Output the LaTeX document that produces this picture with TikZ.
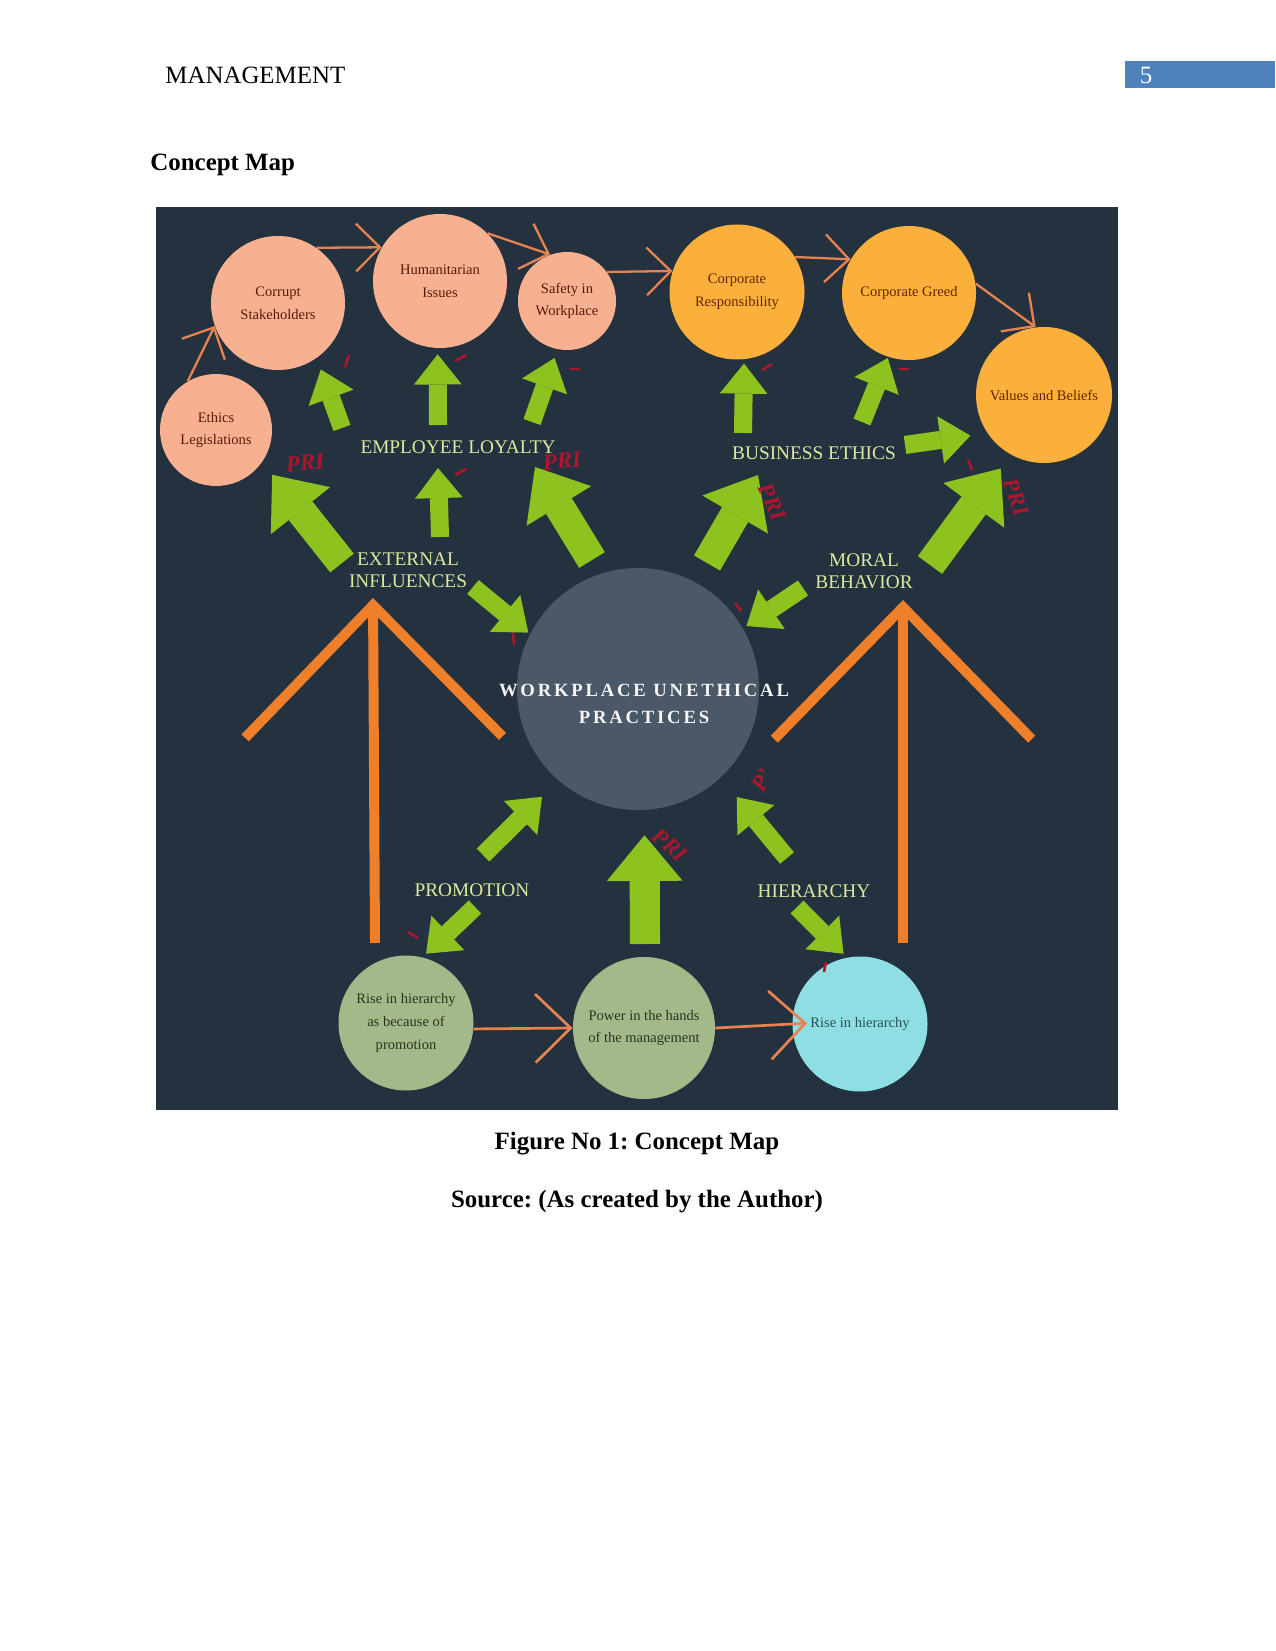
\documentclass[tikz,border=0pt]{standalone}
\usepackage{fontspec}
\setmainfont{Liberation Serif}
\usepackage{xcolor}
\usetikzlibrary{arrows.meta}
\definecolor{panelnavy}{HTML}{243240}
\definecolor{coregray}{HTML}{4A5867}
\definecolor{peach}{HTML}{F7B190}
\definecolor{amber}{HTML}{FBB03B}
\definecolor{sage}{HTML}{A4B98A}
\definecolor{aqua}{HTML}{8EDFE3}
\definecolor{arrowgreen}{HTML}{8DC21F}
\definecolor{lblgreen}{HTML}{DCE89C}
\definecolor{tentorange}{HTML}{F07F2A}
\definecolor{linkorange}{HTML}{E8834F}
\definecolor{hdrblue}{HTML}{4F81BD}
\definecolor{scribble}{HTML}{B0152D}
\definecolor{peachtext}{HTML}{561A0A}
\definecolor{ambertext}{HTML}{642400}
\definecolor{sagetext}{HTML}{2B3222}
\definecolor{aquatext}{HTML}{2E4E56}
\newlength{\pxu}
\setlength{\pxu}{0.4818pt}
\frenchspacing

\begin{document}
\begin{tikzpicture}[x=1\pxu, y=-1\pxu,
    circ/.style={circle, inner sep=0pt, align=center, font=\fontsize{7}{11}\selectfont},
    peachball/.style={circ, fill=peach, text=peachtext},
    amberball/.style={circ, fill=amber, text=ambertext},
    sageball/.style={circ, fill=sage, text=sagetext},
    aquaball/.style={circ, fill=aqua, text=aquatext},
    lbl/.style={inner sep=0pt, align=center, text=lblgreen, font=\fontsize{9.3}{10.6}\selectfont},
    garrow/.style={draw=arrowgreen, line width=8.7pt,
      -{Triangle[length=14.5pt, width=23pt, line width=0pt 0]}},
    gbig/.style={draw=arrowgreen, line width=14.5pt,
      -{Triangle[length=22pt, width=36.5pt, line width=0pt 0]}},
    link/.style={draw=linkorange, line width=1.1pt, -{Straight Barb[length=11.6pt, width=23pt]}},
    linkbig/.style={draw=linkorange, line width=1.3pt, -{Straight Barb[length=17pt, width=33pt]}},
    tent/.style={draw=tentorange, line width=4.8pt, -{Straight Barb[length=63.6pt, width=124pt]}},
    pri/.style={inner sep=0pt, text=scribble, font=\fontsize{11}{11}\selectfont\itshape\bfseries}]
  \useasboundingbox (0,0) rectangle (1275,1651);

  % page header
  \fill[hdrblue] (1125,61) rectangle (1275,88);
  \node[anchor=west, inner sep=0pt, font=\fontsize{12}{14}\selectfont] (hdr) at (165,75) {MANAGEMENT};
  \node[text=white, font=\fontsize{12}{14}\selectfont] (pgno) at (1146,75) {5};
  \node[anchor=west, inner sep=0pt, font=\fontsize{12}{14}\selectfont\bfseries] (title) at (150,165) {Concept Map};

  \fill[panelnavy] (156,207) rectangle (1118,1110);

  % concept circles
  \node[peachball, minimum size=112\pxu] (eth) at (216,430) {Ethics\\Legislations};
  \node[peachball, minimum size=134\pxu] (cs) at (278,303) {Corrupt\\Stakeholders};
  \node[peachball, minimum size=134\pxu] (hum) at (440,281) {Humanitarian\\Issues};
  \node[peachball, minimum size=98\pxu] (saf) at (567,301) {Safety in\\Workplace};
  \node[amberball, minimum size=135\pxu] (cr) at (737,292) {Corporate\\Responsibility};
  \node[amberball, minimum size=134\pxu] (cg) at (909,293) {Corporate Greed};
  \node[amberball, minimum size=136\pxu] (vb) at (1044,395) {Values and Beliefs};
  \node[circle, fill=coregray, minimum size=242\pxu, inner sep=0pt] (wup) at (638,689) {};
  \node[inner sep=0pt, align=center, text=white!92!gray,
    font=\fontsize{9}{13}\selectfont\bfseries\addfontfeature{LetterSpace=15}] (wuptxt) at (644,704)
    {WORKPLACE UNETHICAL\\PRACTICES};
  \node[sageball, minimum size=135\pxu] (rh1) at (406,1023) {Rise in hierarchy\\as because of\\promotion};
  \node[sageball, minimum size=142\pxu] (pw) at (644,1028) {Power in the hands\\of the management};
  \node[aquaball, minimum size=135\pxu] (rh2) at (860,1024) {Rise in hierarchy};

  % group labels
  \node[lbl] (el) at (458,447) {EMPLOYEE LOYALTY};
  \node[lbl] (be) at (814,453) {BUSINESS ETHICS};
  \node[lbl] (ei) at (408,570) {EXTERNAL\\INFLUENCES};
  \node[lbl] (mb) at (864,571) {MORAL\\BEHAVIOR};
  \node[lbl] (prom) at (472,890) {PROMOTION};
  \node[lbl] (hier) at (814,891) {HIERARCHY};

  % orange tents
  \coordinate (lapex) at (373,598);
  \coordinate (lfoot) at (375,943);
  \coordinate (rapex) at (903,600);
  \coordinate (rfoot) at (903,943);
  \draw[tent] (lfoot) -- (lapex);
  \draw[tent] (rfoot) -- (rapex);

  % thin links
  \draw[link] (eth.120) -- (cs.200);
  \draw[link] (cs.55) -- (hum.150);
  \draw[link] (hum.45) -- (saf.110);
  \draw[link] (saf.36) -- (cr.162);
  \draw[link] (cr.31) -- (cg.150);
  \draw[link] (cg.8) -- (vb.97);
  \draw[linkbig] (rh1.-5) -- (pw.180);
  \draw[linkbig, shorten >=-15\pxu] (pw.0) -- (rh2.180);

  % green arrows
  \draw[garrow, shorten >=12\pxu] ([shift={(-116,-19)}]el.center) -- (cs.-55);
  \draw[garrow, shorten >=6\pxu] ([shift={(-20,-22)}]el.center) -- (hum.-92);
  \draw[garrow, shorten >=9\pxu] ([shift={(74,-25)}]el.center) -- (saf.-101);
  \draw[gbig, shorten >=16\pxu] ([shift={(-66,-7)}]ei.center) -- (eth.-35);
  \draw[garrow] ([shift={(32,-33)}]ei.center) -- ([shift={(-20,21)}]el.center);
  \draw[gbig] ([shift={(-46,-129)}]wup.center) -- ([shift={(77,20)}]el.center);
  \draw[garrow, shorten >=2\pxu] ([shift={(65,17)}]ei.center) -- (wup.153);
  \draw[garrow, shorten >=4\pxu] ([shift={(-71,-20)}]be.center) -- (cr.-84);
  \draw[garrow, shorten >=1\pxu] ([shift={(48,-31)}]be.center) -- (cg.-108);
  \draw[garrow, shorten >=17\pxu] ([shift={(91,-8)}]be.center) -- (vb.-146);
  \draw[gbig] ([shift={(69,-126)}]wup.center) -- ([shift={(-56,22)}]be.center);
  \draw[gbig, shorten >=17\pxu] ([shift={(66,-6)}]mb.center) -- (vb.-119);
  \draw[garrow, shorten >=4\pxu] ([shift={(-61,17)}]mb.center) -- (wup.30);
  \draw[garrow, shorten >=23\pxu] ([shift={(11,-35)}]prom.center) -- (wup.-131);
  \draw[garrow, shorten >=5\pxu] ([shift={(3,17)}]prom.center) -- (rh1.76);
  \draw[gbig, shorten >=25\pxu] ([shift={(1,-84)}]pw.center) -- (wup.-87);
  \draw[garrow, shorten >=25\pxu] ([shift={(-27,-33)}]hier.center) -- (wup.-47);
  \draw[garrow, shorten >=5\pxu] ([shift={(-17,16)}]hier.center) -- (rh2.101);

  % red marks
  \node[pri, rotate=5] (pri1) at (305,463) {PRI};
  \node[pri, rotate=5] (pri2) at (562,461) {PRI};
  \node[pri, rotate=-65] (pri3) at (772,502) {PRI};
  \node[pri, rotate=-70] (pri4) at (1016,497) {PRI};
  \node[pri, rotate=-40] (pri5) at (670,845) {PRI};
  \node[pri, rotate=60] (pri6) at (762,780) {P'};
  \foreach \ax/\ay/\bx/\by in {345/367/349/355, 455/361/466/355, 570/369/580/369,
      455/475/466/469, 513/633/514/645, 762/370/772/364, 899/369/909/369,
      968/460/972/470, 735/603/741/611, 408/932/418/938, 826/962/824/972}
    \draw[scribble, line width=1.2pt] (\ax,\ay) -- (\bx,\by);

  % caption
  \node[font=\fontsize{12}{14}\selectfont\bfseries] (fig) at (637,1144) {Figure No 1: Concept Map};
  \node[font=\fontsize{12}{14}\selectfont\bfseries] (src) at (637,1202) {Source: (As created by the Author)};
\end{tikzpicture}
\end{document}
